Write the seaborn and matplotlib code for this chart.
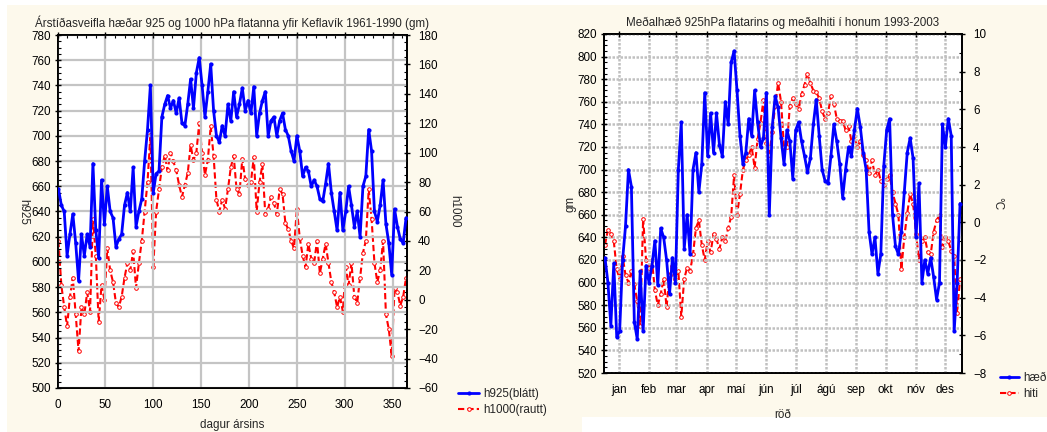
import numpy as np
import pandas as pd
import matplotlib
matplotlib.use("Agg")
import matplotlib.pyplot as plt
import seaborn as sns
from matplotlib.ticker import MultipleLocator, AutoMinorLocator, FixedLocator
from matplotlib.lines import Line2D
from matplotlib.patches import Rectangle

# ---------------- data ----------------
days_left = list(range(1, 365, 3))
h925 = [658, 645, 640, 605, 622, 638, 615, 585, 622, 605,
        622, 612, 678, 625, 603, 665, 630, 660, 640, 635,
        612, 618, 622, 645, 655, 640, 675, 628, 640, 650,
        680, 705, 740, 655, 670, 672, 715, 725, 732, 722,
        728, 718, 730, 710, 708, 725, 745, 722, 750, 762,
        740, 715, 735, 757, 720, 700, 695, 708, 700, 725,
        712, 735, 715, 725, 738, 720, 728, 718, 739, 700,
        718, 728, 735, 700, 712, 715, 700, 712, 718, 705,
        700, 688, 680, 700, 688, 668, 675, 672, 660, 665,
        660, 650, 648, 662, 678, 655, 640, 625, 655, 625,
        640, 660, 645, 628, 640, 620, 660, 668, 705, 688,
        640, 632, 645, 665, 630, 615, 590, 642, 628, 618,
        615, 635]
h1000 = [40, 10, -5, -18, 2, 15, -10, -35, -5, -10,
         5, -8, 55, 30, -15, 10, 0, 35, 20, 12,
         -2, -5, 2, 15, 25, 20, 33, 8, 25, 40,
         60, 80, 112, 22, 60, 75, 90, 98, 88, 100,
         94, 88, 78, 70, 78, 86, 105, 95, 100, 120,
         100, 85, 95, 118, 98, 68, 60, 68, 62, 75,
         90, 98, 75, 72, 96, 82, 78, 80, 97, 60,
         80, 92, 58, 62, 70, 66, 58, 75, 72, 52,
         48, 40, 35, 62, 42, 30, 22, 38, 28, 25,
         40, 18, 28, 38, 25, 12, 5, -5, 2, -8,
         22, 10, 25, 2, -2, 15, 32, 40, 75, 55,
         25, 12, 20, 40, -10, -20, -38, 8, 5, -4,
         2, 15]

days_right = list(range(1, 365, 3))
haed = [622, 600, 562, 617, 552, 557, 620, 650, 700, 685,
        565, 550, 610, 557, 615, 600, 615, 637, 598, 648,
        640, 620, 590, 622, 600, 700, 742, 630, 660, 625,
        700, 715, 680, 705, 768, 712, 750, 715, 750, 722,
        712, 760, 740, 795, 805, 770, 730, 705, 715, 745,
        730, 770, 742, 720, 728, 768, 660, 738, 765, 755,
        728, 705, 735, 725, 692, 735, 742, 725, 712, 698,
        710, 740, 762, 730, 700, 690, 688, 712, 740, 725,
        705, 675, 700, 720, 712, 735, 754, 738, 715, 700,
        645, 625, 640, 608, 625, 703, 735, 745, 660, 632,
        625, 645, 680, 715, 728, 710, 640, 688, 600, 620,
        608, 622, 605, 585, 600, 740, 720, 745, 730, 557,
        600, 670]
hiti = [-1.2, -0.4, -0.6, -1.0, -2.5, -3.0, -1.8, -2.8, -3.2, -2.6,
        -3.3, -4.2, -5.5, 0.2, -2.0, -2.4, -2.0, -3.6, -4.4, -3.8,
        -3.0, -4.5, -2.8, -2.3, -3.0, -2.6, -5.0, -3.0, -2.4, -2.6,
        -1.7, -0.3, 0.1, -1.2, -2.0, -1.0, -1.6, -0.6, -0.9, -1.4,
        -0.8, -1.0, -0.3, 0.3, 2.5, 0.4, 1.5, 2.8, 3.3, 3.6,
        4.0, 2.9, 4.4, 5.3, 6.5, 4.2, 3.6, 4.8, 6.2, 7.4,
        6.4, 4.0, 4.0, 6.2, 6.6, 6.3, 6.0, 6.8, 7.3, 7.9,
        7.4, 7.0, 6.9, 6.6, 5.9, 5.5, 5.8, 6.7, 6.3, 5.5,
        5.4, 5.4, 4.9, 5.1, 4.3, 4.6, 4.0, 4.3, 3.6, 3.3,
        2.6, 3.3, 2.5, 2.8, 2.2, 2.0, 2.3, 2.5, 1.6, 1.0,
        0.4, -2.5, -0.8, 0.5, 1.5, 1.0, -0.6, -2.0, -1.0, -0.8,
        -1.6, -1.7, -0.5, 0.1, 0.4, -1.3, -0.8, -1.0, -1.5, -1.8,
        -4.8, -3.0]

month_days = [15, 46, 74, 105, 135, 166, 196, 227, 258, 288, 319, 349]
month_labels = ["jan", "feb", "mar", "apr", "maí", "jún", "júl", "ágú",
                "sep", "okt", "nóv", "des"]

title_left = "Árstíðasveifla hæðar 925 og 1000 hPa flatanna yfir Keflavík 1961-1990 (gm)"
title_right = "Meðalhæð 925hPa flatarins og meðalhiti í honum 1993-2003"

# ---------------- style ----------------
sns.set_theme(style="white")
plt.rcParams["font.family"] = ["Liberation Sans", "DejaVu Sans"]
FS = 8.4
BLUE = "#0000FF"
RED = "#FF0000"
CREAM = "#FDF9EC"

W, H = 1047, 432
fig = plt.figure(figsize=(W / 100, H / 100), dpi=100, facecolor="white")
fig.patches.append(Rectangle((7 / W, 0), (582 - 7) / W, 1 - 5 / H,
                             transform=fig.transFigure, facecolor=CREAM,
                             edgecolor="none", zorder=-10))
fig.patches.append(Rectangle((582 / W, 15 / H), (W - 582) / W, 1 - 20 / H,
                             transform=fig.transFigure, facecolor=CREAM,
                             edgecolor="none", zorder=-10))


def axes_px(l, r, t, b):
    return fig.add_axes([l / W, 1 - b / H, (r - l) / W, (b - t) / H])


def style_axis(ax):
    ax.set_facecolor("white")
    for s in ax.spines.values():
        s.set_color("black")
        s.set_linewidth(1.3)
        s.set_visible(True)
    ax.tick_params(axis="both", which="major", direction="inout", length=4,
                   width=1, colors="black", labelsize=FS)
    ax.tick_params(axis="both", which="minor", direction="in", length=2,
                   width=0.8, colors="black")


LW_B, MS_B = 2.0, 3.0
LW_R, MS_R = 1.5, 2.6

# ---------------- left panel ----------------
df_l = pd.DataFrame({"dagur": days_left, "h925": h925, "h1000": h1000})
axL = axes_px(57.5, 407, 35, 388)
style_axis(axL)
axL.grid(True, color="#C4C4C4", linewidth=1.6, linestyle="-")
axL.set_axisbelow(True)
sns.lineplot(data=df_l, x="dagur", y="h925", ax=axL, color=BLUE, linewidth=LW_B,
             marker="o", markersize=MS_B, markeredgewidth=0, zorder=4)
axL.set_xlim(0, 365)
axL.set_ylim(500, 780)
axL.xaxis.set_major_locator(MultipleLocator(50))
axL.xaxis.set_minor_locator(AutoMinorLocator(5))
axL.yaxis.set_major_locator(MultipleLocator(20))
axL.yaxis.set_minor_locator(AutoMinorLocator(4))
axL.tick_params(axis="x", which="both", top=True, pad=6)
axL.tick_params(axis="y", which="both", pad=3)
axL.set_xlabel("dagur ársins", fontsize=FS, labelpad=6)
axL.set_ylabel("h925", fontsize=FS, rotation=-90, labelpad=10)
axL.set_title(title_left, fontsize=FS, pad=6)

axL2 = axL.twinx()
style_axis(axL2)
sns.lineplot(data=df_l, x="dagur", y="h1000", ax=axL2, color=RED, linewidth=LW_R,
             linestyle=(0, (3, 1.5)), marker="o", markersize=MS_R,
             markerfacecolor="white", markeredgecolor=RED, markeredgewidth=0.7,
             zorder=3)
axL2.set_ylim(-60, 180)
axL2.yaxis.set_major_locator(MultipleLocator(20))
axL2.yaxis.set_minor_locator(AutoMinorLocator(4))
axL2.tick_params(axis="y", which="both", pad=6)
axL2.set_ylabel("h1000", fontsize=FS, rotation=-90, labelpad=16)
axL2.set_xlim(0, 365)
axL.set_zorder(axL2.get_zorder() + 1)
axL.patch.set_visible(False)
axL2.patch.set_visible(True)
axL2.patch.set_facecolor("white")
axL2.grid(False)

hL = [Line2D([], [], color=BLUE, lw=LW_B, marker="o", ms=MS_B, mew=0),
      Line2D([], [], color=RED, lw=LW_R, ls=(0, (3, 1.5)), marker="o", ms=MS_R,
             mfc="white", mec=RED, mew=0.7)]
fig.legend(hL, ["h925(blátt)", "h1000(rautt)"], loc="center left",
           bbox_to_anchor=(458 / W, 1 - 402 / H), frameon=False, fontsize=FS,
           handlelength=1.8, handletextpad=0.4, labelspacing=0.35,
           borderpad=0, borderaxespad=0)

# ---------------- right panel ----------------
df_r = pd.DataFrame({"dagur": days_right, "haed": haed, "hiti": hiti})
axR = axes_px(604, 962, 34, 373)
style_axis(axR)
axR.grid(True, color="#C0C0C0", linewidth=1.8, linestyle=(0, (1, 0.6)))
axR.set_axisbelow(True)
sns.lineplot(data=df_r, x="dagur", y="haed", ax=axR, color=BLUE, linewidth=LW_B,
             marker="o", markersize=MS_B, markeredgewidth=0, zorder=4)
axR.set_xlim(0, 366)
axR.set_ylim(520, 820)
axR.xaxis.set_major_locator(FixedLocator(month_days))
axR.set_xticklabels(month_labels)
axR.yaxis.set_major_locator(MultipleLocator(20))
axR.yaxis.set_minor_locator(AutoMinorLocator(4))
axR.tick_params(axis="x", which="both", top=True, pad=6)
axR.tick_params(axis="y", which="both", pad=3)
axR.set_xlabel("röð", fontsize=FS, labelpad=9)
axR.set_ylabel("gm", fontsize=FS, rotation=90, labelpad=1)
axR.set_title(title_right, fontsize=FS, pad=6)

axR2 = axR.twinx()
style_axis(axR2)
sns.lineplot(data=df_r, x="dagur", y="hiti", ax=axR2, color=RED, linewidth=LW_R,
             linestyle=(0, (3, 1.5)), marker="o", markersize=MS_R,
             markerfacecolor="white", markeredgecolor=RED, markeredgewidth=0.7,
             zorder=3)
axR2.set_ylim(-8, 10)
axR2.yaxis.set_major_locator(MultipleLocator(2))
axR2.yaxis.set_minor_locator(AutoMinorLocator(2))
axR2.tick_params(axis="y", which="both", pad=6)
axR2.set_ylabel("°C", fontsize=FS, rotation=-90, labelpad=12)
axR2.set_xlim(0, 366)
axR.set_zorder(axR2.get_zorder() + 1)
axR.patch.set_visible(False)
axR2.patch.set_visible(True)
axR2.patch.set_facecolor("white")
axR2.grid(False)

hR = [Line2D([], [], color=BLUE, lw=LW_B, marker="o", ms=MS_B, mew=0),
      Line2D([], [], color=RED, lw=LW_R, ls=(0, (3, 1.5)), marker="o", ms=MS_R,
             mfc="white", mec=RED, mew=0.7)]
fig.legend(hR, ["hæð", "hiti"], loc="center left",
           bbox_to_anchor=(1000 / W, 1 - 386 / H), frameon=False, fontsize=FS,
           handlelength=1.6, handletextpad=0.4, labelspacing=0.35,
           borderpad=0, borderaxespad=0)

fig.savefig("out.png", dpi=100, facecolor=fig.get_facecolor())
